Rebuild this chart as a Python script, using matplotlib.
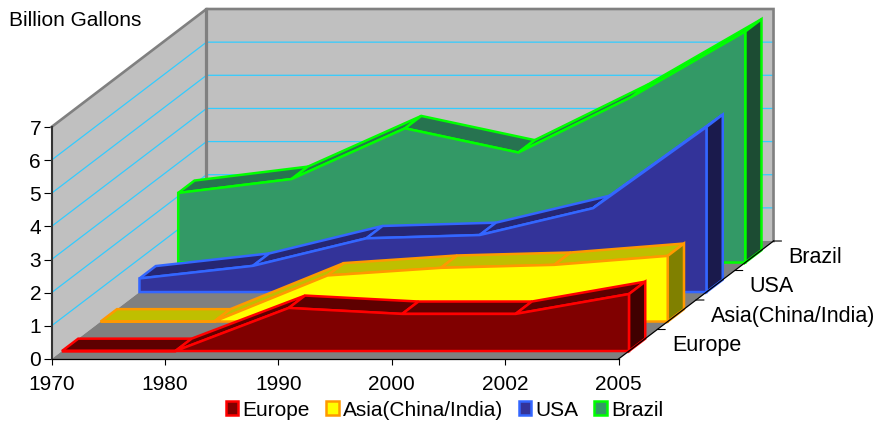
#!/usr/bin/env python3
"""Biofuel output by region, drawn as an oblique 3D area chart on plain 2D axes."""

import matplotlib
matplotlib.use("Agg")
import matplotlib.pyplot as plt
import numpy as np
from matplotlib.patches import Patch, Polygon

plt.rcParams["font.family"] = ["Liberation Sans", "DejaVu Sans"]

# Data
YEARS = ["1970", "1980", "1990", "2000", "2002", "2005"]
REGIONS = ["Europe", "Asia(China/India)", "USA", "Brazil"]
EUROPE = [0.0, 0.0, 1.30, 1.12, 1.12, 1.72]
ASIA = [0.0, 0.0, 1.39, 1.62, 1.71, 1.98]
USA = [0.41, 0.79, 1.62, 1.72, 2.53, 4.98]
BRAZIL = [2.10, 2.52, 4.05, 3.32, 5.00, 6.97]
Y_MAX = 7

# Colours per region: front, top, side, edge
FRONT_COLORS = ["#800000", "#FFFF00", "#333399", "#339966"]
TOP_COLORS = ["#5E0000", "#BFBF00", "#262673", "#277350"]
SIDE_COLORS = ["#400000", "#808000", "#1A1A4C", "#1C4C33"]
EDGE_COLORS = ["#FF0000", "#FF9900", "#3366FF", "#00FF00"]
WALL_COLOR = "#C0C0C0"
FLOOR_COLOR = "#808080"
GRID_COLOR = "#33CCFF"

FONT_SIZE = 15.0
DEPTH_FONT_SIZE = 15.5
EDGE_WIDTH = 1.8

# Full chart depth expressed in data units (x categories, y values)
DEPTH_X = 1.367
DEPTH_Y = 3.56
BAND_START = 0.0675
BAND_DEPTH = 0.105


def project(x, y, depth):
    return x + depth * DEPTH_X, y + depth * DEPTH_Y


def add_poly(ax, points, face, edge=None, lw=0.0, z=1):
    ax.add_patch(Polygon(points, closed=True, facecolor=face,
                         edgecolor=edge if edge else "none", linewidth=lw,
                         joinstyle="miter", clip_on=False, zorder=z))


def draw_walls(ax, last):
    back = [project(0, 0, 1), project(last, 0, 1), project(last, Y_MAX, 1), project(0, Y_MAX, 1)]
    side = [project(0, 0, 0), project(0, 0, 1), project(0, Y_MAX, 1), project(0, Y_MAX, 0)]
    floor = [project(0, 0, 0), project(last, 0, 0), project(last, 0, 1), project(0, 0, 1)]
    add_poly(ax, side, WALL_COLOR, z=1)
    add_poly(ax, back, WALL_COLOR, z=1)
    add_poly(ax, floor, FLOOR_COLOR, z=1)

    for v in range(1, Y_MAX):
        xs, ys = zip(project(0, v, 0), project(0, v, 1), project(last, v, 1))
        ax.plot(xs, ys, color=GRID_COLOR, lw=0.9, clip_on=False, zorder=2)

    # Wall outlines
    xs, ys = zip(project(0, Y_MAX, 0), project(0, Y_MAX, 1), project(last, Y_MAX, 1),
                 project(last, 0, 1))
    ax.plot(xs, ys, color=FLOOR_COLOR, lw=1.9, clip_on=False, zorder=2,
            solid_joinstyle="miter")
    xs, ys = zip(project(-0.008, 0, 1), project(-0.008, Y_MAX, 1))
    ax.plot(xs, ys, color=FLOOR_COLOR, lw=2.3, clip_on=False, zorder=2)


def draw_series(ax, values, index, z):
    x = np.arange(len(values))
    near = BAND_START + 0.25 * index
    far = near + BAND_DEPTH
    front, top, side, edge = (FRONT_COLORS[index], TOP_COLORS[index],
                              SIDE_COLORS[index], EDGE_COLORS[index])

    # Top surface, one facet per category interval
    for i in range(len(values) - 1):
        facet = [project(x[i], values[i], near), project(x[i + 1], values[i + 1], near),
                 project(x[i + 1], values[i + 1], far), project(x[i], values[i], far)]
        add_poly(ax, facet, top, edge, EDGE_WIDTH, z)

    # Right end cap
    cap = [project(x[-1], 0, near), project(x[-1], values[-1], near),
           project(x[-1], values[-1], far), project(x[-1], 0, far)]
    add_poly(ax, cap, side, edge, EDGE_WIDTH, z)

    # Front face
    outline = [project(x[0], 0, near)]
    outline += [project(a, b, near) for a, b in zip(x, values)]
    outline.append(project(x[-1], 0, near))
    add_poly(ax, outline, front, edge, EDGE_WIDTH, z + 0.5)


def draw_depth_axis(ax, last):
    xs, ys = zip(project(last, 0, 0), project(last, 0, 1))
    ax.plot(xs, ys, color="black", lw=0.9, clip_on=False, zorder=20)
    for d in [0.25, 0.5, 0.75, 1.0]:
        px, py = project(last, 0, d)
        ax.annotate("", xy=(px, py), xytext=(8, 0), textcoords="offset pixels",
                    arrowprops=dict(arrowstyle="-", color="black", lw=0.8,
                                    shrinkA=0, shrinkB=0), zorder=20,
                    annotation_clip=False)
    for i, name in enumerate(REGIONS):
        px, py = project(last, 0, 0.125 + 0.25 * i)
        ax.annotate(name, xy=(px, py), xytext=(34, -1.5), textcoords="offset pixels",
                    ha="left", va="center", fontsize=DEPTH_FONT_SIZE, annotation_clip=False)


def main():
    fig = plt.figure(figsize=(8.76, 4.21), dpi=100)
    ax = fig.add_axes([51.5 / 876, (421 - 359) / 421, 567 / 876, 232 / 421])
    ax.patch.set_visible(False)

    last = len(YEARS) - 1
    ax.set_xlim(0, last)
    ax.set_ylim(0, Y_MAX)

    draw_walls(ax, last)

    # Rear regions first so nearer ones paint over them
    all_values = [EUROPE, ASIA, USA, BRAZIL]
    for index in range(3, -1, -1):
        draw_series(ax, all_values[index], index, 5 + (3 - index) * 2)

    draw_depth_axis(ax, last)

    for side in ["top", "right"]:
        ax.spines[side].set_visible(False)
    ax.spines["left"].set_color("#333333")
    ax.spines["left"].set_linewidth(1.5)
    ax.spines["bottom"].set_linewidth(0.9)
    ax.spines["left"].set_zorder(20)
    ax.spines["bottom"].set_zorder(20)

    ax.set_xticks(np.arange(len(YEARS)))
    ax.set_xticklabels(YEARS)
    ax.set_yticks(np.arange(Y_MAX + 1))
    ax.tick_params(axis="x", length=4.5, width=0.8, pad=7, labelsize=FONT_SIZE)
    ax.tick_params(axis="y", length=5.5, width=0.8, pad=2, labelsize=FONT_SIZE)

    fig.text(9 / 876, 1 - 21 / 421, "Billion Gallons", fontsize=FONT_SIZE,
             ha="left", va="center")

    handles = [Patch(facecolor=f, edgecolor=e, linewidth=1.8, label=n)
               for f, e, n in zip(FRONT_COLORS, EDGE_COLORS, REGIONS)]
    fig.legend(handles=handles, loc="center", bbox_to_anchor=(444.5 / 876, 1 - 410 / 421),
               ncol=4, frameon=False, fontsize=FONT_SIZE, handlelength=0.62,
               handleheight=0.62, handletextpad=0.2, columnspacing=0.75,
               borderpad=0, borderaxespad=0)

    fig.savefig("out.png", dpi=100, facecolor="white")
    plt.close(fig)


if __name__ == "__main__":
    main()
